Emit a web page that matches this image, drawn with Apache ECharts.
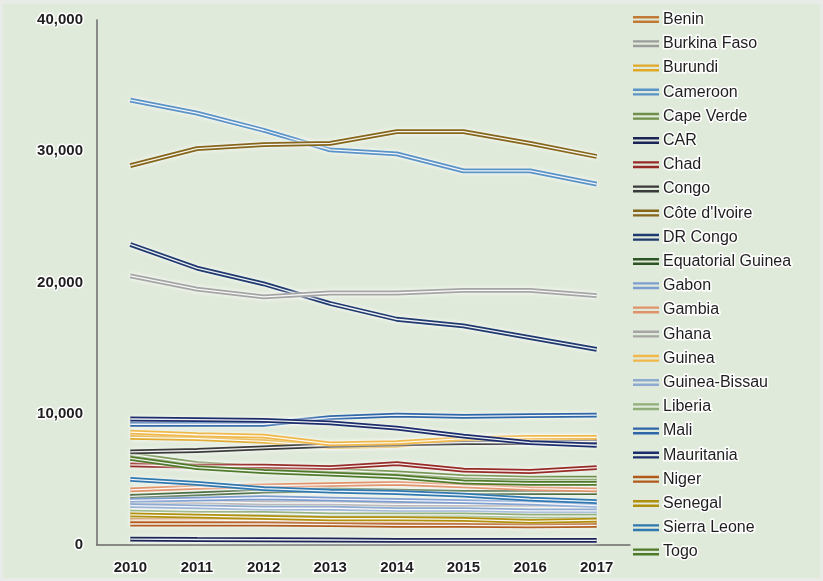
<!DOCTYPE html>
<html>
<head>
<meta charset="utf-8">
<script src="https://cdn.jsdelivr.net/npm/echarts@6/dist/echarts.min.js"></script>
<style>
  html, body { margin: 0; padding: 0; background: #e9ebe8; }
  #chart { position: absolute; left: 3px; top: 4px; width: 817px; height: 574px; }
</style>
</head>
<body>
<div id="chart"></div>
<script>
const years = ['2010', '2011', '2012', '2013', '2014', '2015', '2016', '2017'];
const yTicks = [0, 10000, 20000, 30000, 40000];

const countries = ['Benin', 'Burkina Faso', 'Burundi', 'Cameroon', 'Cape Verde', 'CAR', 'Chad', 'Congo',
  "Côte d'Ivoire", 'DR Congo', 'Equatorial Guinea', 'Gabon', 'Gambia', 'Ghana', 'Guinea', 'Guinea-Bissau',
  'Liberia', 'Mali', 'Mauritania', 'Niger', 'Senegal', 'Sierra Leone', 'Togo'];

const benin = [1900, 1900, 1850, 1800, 1800, 1750, 1700, 1800];
const burkinaFaso = [3300, 3300, 3200, 3200, 3100, 3100, 3100, 3100];
const burundi = [8200, 8100, 7900, 7500, 7600, 8100, 8100, 8100];
const cameroon = [33900, 32900, 31600, 30100, 29800, 28500, 28500, 27500];
const capeVerde = [6900, 6200, 5900, 5700, 5500, 5200, 5100, 5100];
const car = [450, 420, 400, 380, 350, 350, 350, 350];
const chad = [6100, 6000, 6000, 5900, 6200, 5700, 5600, 5900];
const congo = [7100, 7200, 7400, 7600, 7700, 7800, 7800, 7900];
const coteDIvoire = [28900, 30200, 30500, 30600, 31500, 31500, 30600, 29600];
const drCongo = [22900, 21100, 19900, 18400, 17200, 16700, 15800, 14900];
const eqGuinea = [3700, 3900, 4100, 4200, 4100, 4000, 4000, 4000];
const gabon = [3400, 3500, 3600, 3500, 3400, 3300, 3200, 3000];
const gambia = [4200, 4400, 4500, 4600, 4700, 4500, 4300, 4200];
const ghana = [20500, 19500, 18900, 19200, 19200, 19400, 19400, 19000];
const guinea = [8600, 8400, 8300, 7700, 7800, 8100, 8200, 8200];
const guineaBissau = [3000, 2900, 2800, 2800, 2700, 2700, 2600, 2600];
const liberia = [2500, 2400, 2400, 2300, 2300, 2300, 2200, 2200];
const mali = [9200, 9200, 9200, 9700, 9900, 9800, 9850, 9900];
const mauritania = [9600, 9550, 9500, 9300, 8900, 8300, 7800, 7600];
const niger = [1600, 1600, 1600, 1550, 1500, 1500, 1450, 1500];
const senegal = [2300, 2200, 2100, 2000, 2000, 1950, 1800, 1900];
const sierraLeone = [5000, 4700, 4300, 4100, 4000, 3800, 3500, 3300];
const togo = [6600, 5900, 5600, 5400, 5200, 4800, 4700, 4700];

const values = [benin, burkinaFaso, burundi, cameroon, capeVerde, car, chad, congo, coteDIvoire, drCongo,
  eqGuinea, gabon, gambia, ghana, guinea, guineaBissau, liberia, mali, mauritania, niger, senegal,
  sierraLeone, togo];

const colors = ['#c07a35', '#9c9c9c', '#e0a828', '#5b93c7', '#6f8f4a', '#1a2456', '#962a26', '#3a3a3a',
  '#86661a', '#1f3a6e', '#2e5525', '#7d9ccf', '#e0926a', '#a5a5a5', '#f0b84a', '#8faad0',
  '#8fae7a', '#2f66a8', '#1c2d6b', '#b05a1c', '#b0900c', '#2f78b0', '#4f7a2a'];

const glowText = { textBorderColor: '#ffffff', textBorderWidth: 3 };
const font = '"Liberation Sans", Arial, sans-serif';

const series = [];
countries.forEach((name, i) => {
  series.push({
    name: name,
    type: 'line',
    data: values[i],
    showSymbol: false,
    silent: true,
    color: colors[i],
    lineStyle: { width: 4.8, color: colors[i], shadowColor: 'rgba(255,255,255,0.95)', shadowBlur: 4 },
    z: 2
  });
  series.push({
    name: name + ' \u200b',
    type: 'line',
    data: values[i],
    showSymbol: false,
    silent: true,
    lineStyle: { width: 1.3, color: 'rgba(255,255,255,0.92)' },
    z: 2
  });
});

const chart = echarts.init(document.getElementById('chart'));
chart.setOption({
  animation: false,
  backgroundColor: '#e0eada',
  grid: { left: 94, right: 190, top: 16, bottom: 33 },
  legend: {
    orient: 'vertical',
    left: 630,
    top: 6,
    padding: 0,
    itemWidth: 26,
    itemHeight: 7,
    itemGap: 5.2,
    icon: 'path://M0,0H26V2.4H0Z M0,4.6H26V7H0Z',
    textStyle: Object.assign({ fontFamily: font, fontSize: 16, color: '#1e1e1e', padding: [0, 0, 0, -1] }, glowText),
    data: countries.map((n, i) => ({ name: n, itemStyle: { color: colors[i] } })),
    selectedMode: false
  },
  xAxis: {
    type: 'category',
    data: years,
    boundaryGap: true,
    axisLine: { lineStyle: { color: '#6a6a6a', width: 1.5 } },
    axisTick: { show: false },
    axisLabel: Object.assign({ fontFamily: font, fontSize: 15, fontWeight: 'bold', color: '#1e1e1e', margin: 15 }, glowText)
  },
  yAxis: {
    type: 'value',
    min: yTicks[0],
    max: yTicks[yTicks.length - 1],
    interval: 10000,
    splitLine: { show: false },
    axisLine: { show: true, lineStyle: { color: '#6a6a6a', width: 1.5 } },
    axisTick: { show: false },
    axisLabel: Object.assign({
      fontFamily: font, fontSize: 15, fontWeight: 'bold', color: '#1e1e1e', margin: 14,
      formatter: v => v.toLocaleString('en-US')
    }, glowText)
  },
  series: series
});
</script>
</body>
</html>
